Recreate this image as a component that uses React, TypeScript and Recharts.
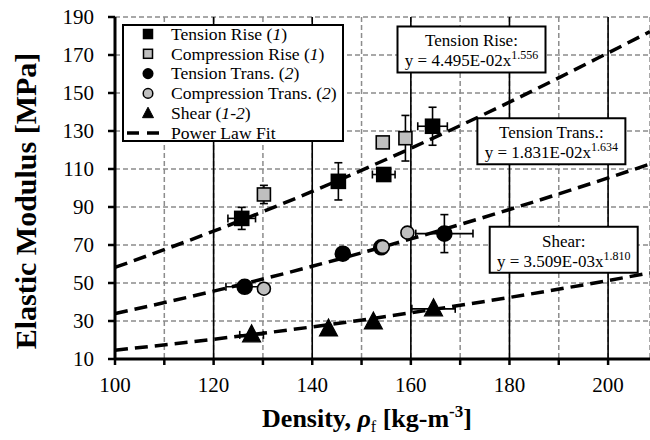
import React from 'react';
import {
  ComposedChart,
  Scatter,
  Line,
  XAxis,
  YAxis,
  CartesianGrid,
  ReferenceLine,
  ReferenceDot,
  ErrorBar,
  Legend,
} from 'recharts';

const FONT = '"Liberation Serif", "Times New Roman", Times, serif';

// ---------- axes ----------
const xTicks = [100, 110, 120, 130, 140, 150, 160, 170, 180, 190, 200];
const xLabelTicks = [100, 120, 140, 160, 180, 200];
const yTicks = [10, 30, 50, 70, 90, 110, 130, 150, 170, 190];
const solidGridX = [120, 140, 160, 180, 200];

// ---------- Tension Rise (1) ----------
const trX = [125.7, 145.3, 154.5, 164.4];
const trY = [84.0, 103.5, 107.1, 132.5];
const trXErr = [2.8, 0, 2.3, 3.0];
const trYErr = [5.8, 9.8, 0, 10.0];

// ---------- Compression Rise (1) ----------
const crX = [130.2, 154.3, 158.9];
const crY = [96.6, 124.0, 126.2];
const crXErr = [0, 0, 0];
const crYErr = [4.8, 0, 12.0];

// ---------- Tension Trans. (2) ----------
const ttX = [126.3, 146.2, 154.0, 166.8];
const ttY = [48.0, 65.4, 68.8, 76.0];
const ttXErr = [3.8, 0, 0, 5.8];
const ttYErr = [0, 0, 0, 10.0];

// ---------- Compression Trans. (2) ----------
const ctX = [130.2, 154.3, 159.3];
const ctY = [47.0, 69.0, 76.5];

// ---------- Shear (1-2) ----------
const shX = [127.7, 143.3, 152.4, 164.6];
const shY = [22.7, 25.8, 29.5, 36.4];
const shXErr = [2.4, 0, 0, 4.4];

// ---------- Power law fits ----------
const fitX = [100, 120, 140, 160, 180, 200, 208.5];
const fitTensionRise = [58.2, 77.3, 98.2, 120.9, 145.2, 171.1, 182.3];
const fitTensionTrans = [33.9, 45.7, 58.8, 73.2, 88.7, 105.3, 112.6];
const fitShear = [14.6, 20.4, 26.9, 34.3, 42.4, 51.3, 55.3];

// ---------- equation labels ----------
const eqTitles = ['Tension Rise:', 'Tension Trans.:', 'Shear:'];
const eqCoefs = ['4.495E-02', '1.831E-02', '3.509E-03'];
const eqExps = ['1.556', '1.634', '1.810'];
const eqAtX = [172.3, 188.5, 191.0];
const eqAtY = [172.9, 124.6, 67.5];

// ---------- legend ----------
const legendNames = ['Tension Rise', 'Compression Rise', 'Tension Trans.', 'Compression Trans.', 'Shear', 'Power Law Fit'];
const legendNotes = ['1', '1', '2', '2', '1-2', ''];
const legendMarkers = ['square', 'square', 'circle', 'circle', 'triangle', 'dash'];
const legendFills = ['#000', '#bfbfbf', '#000', '#bfbfbf', '#000', 'none'];

const GRAY = '#bfbfbf';

const zip = (xs: number[], ys: number[], xe?: number[], ye?: number[]) =>
  xs.map((x, i) => ({ x, y: ys[i], xErr: xe ? xe[i] : 0, yErr: ye ? ye[i] : 0 }));

const trData = zip(trX, trY, trXErr, trYErr);
const crData = zip(crX, crY, crXErr, crYErr);
const ttData = zip(ttX, ttY, ttXErr, ttYErr);
const ctData = zip(ctX, ctY);
const shData = zip(shX, shY, shXErr);

const fitTR = fitX.map((x, i) => ({ x, y: fitTensionRise[i] }));
const fitTT = fitX.map((x, i) => ({ x, y: fitTensionTrans[i] }));
const fitSH = fitX.map((x, i) => ({ x, y: fitShear[i] }));

const squareShape = (fill: string, s: number) => (p: any) => {
  const { cx, cy } = p;
  if (cx == null || cy == null) return <g />;
  return (
    <rect x={cx - s / 2} y={cy - s / 2} width={s} height={s} fill={fill} stroke="#000" strokeWidth={1.6} />
  );
};
const circleShape = (fill: string, r: number) => (p: any) => {
  const { cx, cy } = p;
  if (cx == null || cy == null) return <g />;
  return <circle cx={cx} cy={cy} r={r} fill={fill} stroke="#000" strokeWidth={1.6} />;
};
const triangleShape = (fill: string) => (p: any) => {
  const { cx, cy } = p;
  if (cx == null || cy == null) return <g />;
  return (
    <polygon
      points={`${cx},${cy - 10} ${cx - 9},${cy + 7} ${cx + 9},${cy + 7}`}
      fill={fill}
      stroke="#000"
      strokeWidth={1.2}
    />
  );
};

const EqBox = (props: any) => {
  const { cx, cy, idx } = props;
  if (cx == null || cy == null) return <g />;
  const w = 148;
  const h = 46;
  return (
    <g>
      <rect x={cx - w / 2} y={cy - h / 2} width={w} height={h} fill="#fff" stroke="#000" strokeWidth={2} />
      <text x={cx} y={cy - 3} textAnchor="middle" fontSize={17} fontFamily={FONT} fill="#000">
        {eqTitles[idx]}
      </text>
      <text x={cx} y={cy + 17} textAnchor="middle" fontSize={17} fontFamily={FONT} fill="#000">
        {`y = ${eqCoefs[idx]}x`}
        <tspan dy={-7} fontSize={12}>
          {eqExps[idx]}
        </tspan>
      </text>
    </g>
  );
};

const LegendMarker = ({ kind, fill, cx, cy }: any) => {
  if (kind === 'square') return <rect x={cx - 4.5} y={cy - 4.5} width={9} height={9} fill={fill} stroke="#000" strokeWidth={1.5} />;
  if (kind === 'circle') return <circle cx={cx} cy={cy} r={4.8} fill={fill} stroke="#000" strokeWidth={1.5} />;
  if (kind === 'triangle')
    return <polygon points={`${cx},${cy - 6} ${cx - 5.5},${cy + 4.5} ${cx + 5.5},${cy + 4.5}`} fill={fill} stroke="#000" strokeWidth={1} />;
  return <line x1={cx - 21} y1={cy} x2={cx + 13} y2={cy} stroke="#000" strokeWidth={3.5} strokeDasharray="12 8" />;
};

const LegendBox = () => (
  <svg width={222} height={118} style={{ display: 'block' }}>
    <rect x={1} y={1} width={220} height={116} fill="#fff" stroke="#000" strokeWidth={2} />
    {legendNames.map((name, i) => {
      const cy = 10 + i * 19.8;
      return (
        <g key={name}>
          <LegendMarker kind={legendMarkers[i]} fill={legendFills[i]} cx={26} cy={cy} />
          <text x={49} y={cy + 5.8} fontSize={17.6} fontFamily={FONT} fill="#000">
            {name}
            {legendNotes[i] ? ' (' : ''}
            {legendNotes[i] ? <tspan fontStyle="italic">{legendNotes[i]}</tspan> : null}
            {legendNotes[i] ? ')' : ''}
          </text>
        </g>
      );
    })}
  </svg>
);

const XTitle = (props: any) => {
  const vb = props.viewBox || { x: 115, y: 359 };
  return (
    <text x={vb.x + 252} y={vb.y + 68} textAnchor="middle" fontSize={26} fontWeight="bold" fontFamily={FONT} fill="#000">
      Density,{' '}
      <tspan fontStyle="italic">ρ</tspan>
      <tspan dy={5} fontSize={16} fontWeight="normal">f</tspan>
      <tspan dy={-5}> [kg-m</tspan>
      <tspan dy={-10} fontSize={17}>-3</tspan>
      <tspan dy={10}>]</tspan>
    </text>
  );
};

const YTitle = (props: any) => {
  const vb = props.viewBox || { x: 0, y: 17 };
  const x = vb.x + 25;
  const y = vb.y + 184;
  return (
    <text
      x={x}
      y={y}
      transform={`rotate(-90, ${x}, ${y})`}
      textAnchor="middle"
      dominantBaseline="central"
      fontSize={30}
      fontWeight="bold"
      fontFamily={FONT}
      fill="#000"
    >
      Elastic Modulus [MPa]
    </text>
  );
};

const tickStyle = { fontSize: 21, fill: '#000', fontFamily: FONT };

export default function App() {
  return (
    <div style={{ position: 'absolute', left: 0, top: 0, width: 650, height: 440, background: '#fff' }}>
      <ComposedChart width={650} height={440} margin={{ top: 17, right: 0, bottom: 0, left: 0 }}>
        <CartesianGrid stroke="#8c8c8c" strokeWidth={1.5} strokeDasharray="5 3" />
        <XAxis
          type="number"
          dataKey="x"
          domain={[100, 208.5]}
          allowDataOverflow
          ticks={xTicks}
          interval={0}
          tickFormatter={(v: number) => (xLabelTicks.includes(v) ? String(v) : '')}
          tick={tickStyle}
          tickSize={6}
          tickMargin={12}
          axisLine={{ stroke: '#000', strokeWidth: 3 }}
          tickLine={{ stroke: '#000', strokeWidth: 2.5 }}
          height={81}
          label={<XTitle />}
        />
        <YAxis
          type="number"
          dataKey="y"
          domain={[10, 190]}
          allowDataOverflow
          ticks={yTicks}
          interval={0}
          tick={tickStyle}
          tickSize={7}
          tickMargin={14}
          axisLine={{ stroke: '#000', strokeWidth: 3 }}
          tickLine={{ stroke: '#000', strokeWidth: 2.5 }}
          width={115}
          label={<YTitle />}
        />
        {solidGridX.map((v) => (
          <ReferenceLine key={v} x={v} stroke="#000" strokeWidth={1.6} />
        ))}
        <Line data={fitTR} dataKey="y" type="monotone" stroke="#000" strokeWidth={3.5} strokeDasharray="13 7" dot={false} activeDot={false} isAnimationActive={false} legendType="none" />
        <Line data={fitTT} dataKey="y" type="monotone" stroke="#000" strokeWidth={3.5} strokeDasharray="13 7" dot={false} activeDot={false} isAnimationActive={false} legendType="none" />
        <Line data={fitSH} dataKey="y" type="monotone" stroke="#000" strokeWidth={3.5} strokeDasharray="13 7" dot={false} activeDot={false} isAnimationActive={false} legendType="none" />
        <Scatter data={trData} dataKey="y" shape={squareShape('#000', 14)} isAnimationActive={false}>
          <ErrorBar dataKey="xErr" direction="x" width={4} stroke="#000" strokeWidth={1.6} />
          <ErrorBar dataKey="yErr" direction="y" width={4} stroke="#000" strokeWidth={1.6} />
        </Scatter>
        <Scatter data={crData} dataKey="y" shape={squareShape(GRAY, 13)} isAnimationActive={false}>
          <ErrorBar dataKey="yErr" direction="y" width={4} stroke="#000" strokeWidth={1.6} />
        </Scatter>
        <Scatter data={ttData} dataKey="y" shape={circleShape('#000', 7.5)} isAnimationActive={false}>
          <ErrorBar dataKey="xErr" direction="x" width={4} stroke="#000" strokeWidth={1.6} />
          <ErrorBar dataKey="yErr" direction="y" width={4} stroke="#000" strokeWidth={1.6} />
        </Scatter>
        <Scatter data={ctData} dataKey="y" shape={circleShape(GRAY, 6.5)} isAnimationActive={false} />
        <Scatter data={shData} dataKey="y" shape={triangleShape('#000')} isAnimationActive={false}>
          <ErrorBar dataKey="xErr" direction="x" width={4} stroke="#000" strokeWidth={1.6} />
        </Scatter>
        {eqTitles.map((t, i) => (
          <ReferenceDot key={t} x={eqAtX[i]} y={eqAtY[i]} r={0} shape={(p: any) => <EqBox {...p} idx={i} />} />
        ))}
        <Legend
          layout="vertical"
          align="center"
          verticalAlign="middle"
          content={() => <LegendBox />}
          wrapperStyle={{ left: 122, top: 24, width: 222, height: 118, right: 'auto', bottom: 'auto' }}
        />
      </ComposedChart>
    </div>
  );
}
